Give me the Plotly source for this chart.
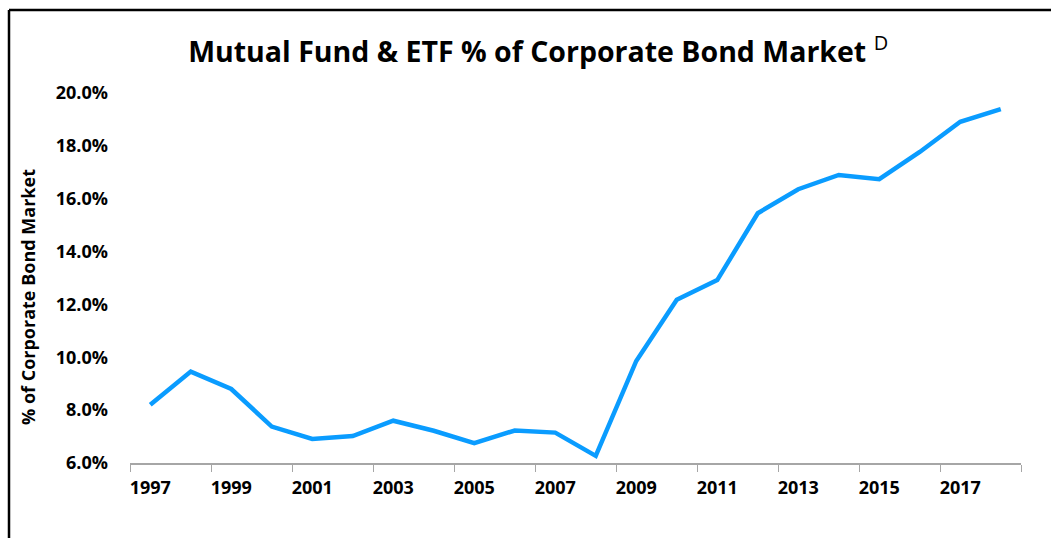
import plotly.graph_objects as go

years = [str(y) for y in range(1997, 2019)]
share = [8.2, 9.46, 8.8, 7.38, 6.91, 7.02, 7.6, 7.22, 6.75, 7.23, 7.15, 6.27,
         9.86, 12.18, 12.92, 15.45, 16.36, 16.9, 16.74, 17.77, 18.91, 19.39]

font_family = "'Open Sans', Lato, sans-serif"

fig = go.Figure()

fig.add_trace(go.Scatter(
    x=years, y=share,
    mode='lines', name='MF & ETF share',
    line=dict(color='#0A9CFF', width=4.5)
))

fig.update_layout(
    width=1051, height=538,
    margin=dict(l=130, r=30, t=93, b=75),
    paper_bgcolor='white', plot_bgcolor='white',
    showlegend=False,
    font=dict(family=font_family, color='black'),
    title=dict(
        text="Mutual Fund & ETF % of Corporate Bond Market <sup><span style='font-weight:normal'>D</span></sup>",
        x=0.512, xanchor='center', y=0.903, yanchor='middle',
        font=dict(size=28.5, weight='bold', color='black')
    ),
    xaxis=dict(
        type='category', dtick=2, tickson='boundaries',
        range=[-0.5, len(years) - 0.5],
        ticks='outside', ticklen=7, tickcolor='#A6A6A6',
        showline=True, linecolor='#A6A6A6', linewidth=1.5,
        showgrid=False, zeroline=False, tickangle=0,
        tickfont=dict(size=18, weight='bold'),
        ticklabelstandoff=8
    ),
    yaxis=dict(
        range=[6, 20], dtick=2, tickformat='.1f', ticksuffix='%',
        showline=False, showgrid=False, zeroline=False,
        tickfont=dict(size=18, weight='bold'),
        ticklabelstandoff=21
    ),
    annotations=[dict(
        text='% of Corporate Bond Market', textangle=-90,
        xref='paper', yref='paper', x=-0.1145, y=0.4486,
        xanchor='center', yanchor='middle', showarrow=False,
        font=dict(size=18, weight='bold', color='black')
    )],
    shapes=[
        dict(type='line', xref='paper', yref='paper',
             x0=-0.1358, x1=-0.1358, y0=-0.6, y1=1.2243,
             line=dict(color='black', width=2.5)),
        dict(type='line', xref='paper', yref='paper',
             x0=-0.1358, x1=1.3, y0=1.2243, y1=1.2243,
             line=dict(color='black', width=2.5)),
    ]
)

fig.write_html("out.html", config={'displayModeBar': False},
               post_script="document.body.style.margin='0';")
